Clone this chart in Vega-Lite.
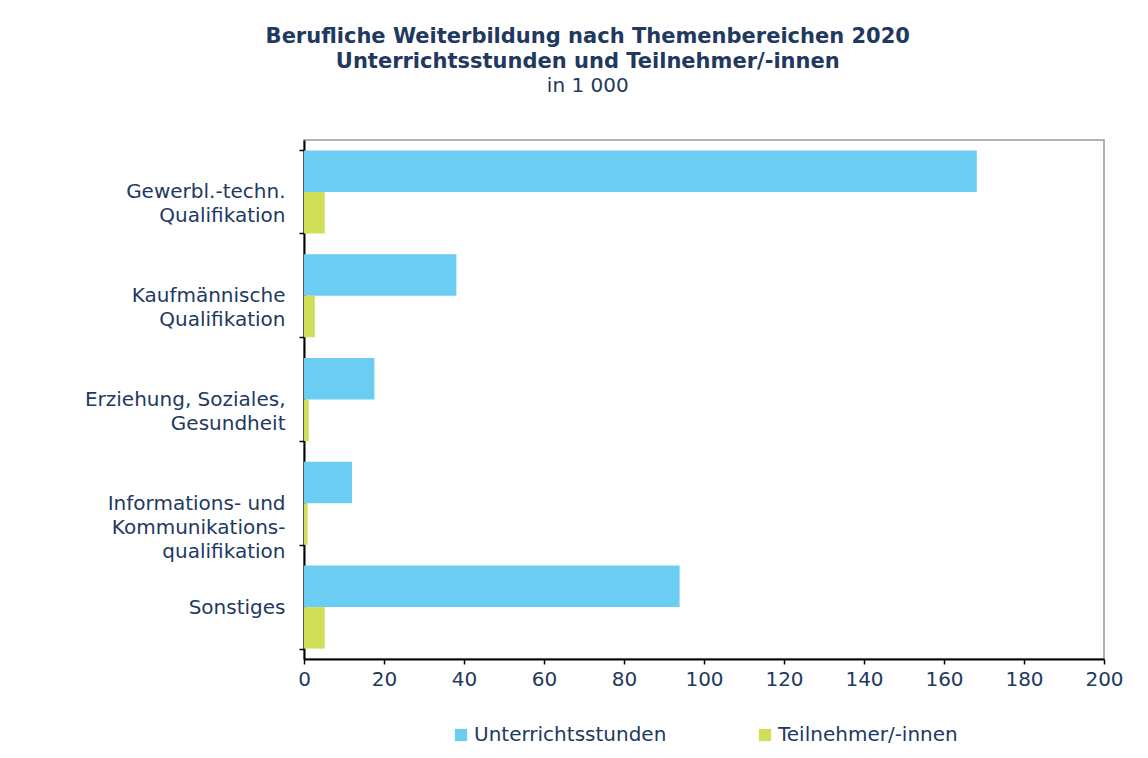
{
  "$schema": "https://vega.github.io/schema/vega-lite/v6.json",
  "width": 1148,
  "height": 758,
  "autosize": {"type": "fit", "contains": "padding"},
  "padding": {"left": 84, "right": 24, "top": 26, "bottom": 13},
  "background": "white",
  "title": {
    "text": ["Berufliche Weiterbildung nach Themenbereichen 2020", "Unterrichtsstunden und Teilnehmer/-innen"],
    "subtitle": "in 1 000",
    "anchor": "middle",
    "frame": "bounds",
    "dx": -16,
    "font": "DejaVu Sans",
    "fontSize": 21,
    "fontWeight": "bold",
    "lineHeight": 25,
    "color": "#22395f",
    "subtitleFont": "DejaVu Sans",
    "subtitleFontSize": 20,
    "subtitleColor": "#22395f",
    "subtitlePadding": 4,
    "offset": 34
  },
  "data": {
    "values": [
      {"Themenbereich": "Gewerbl.-techn.|Qualifikation", "Reihe": "Unterrichtsstunden", "Wert": 168.2},
      {"Themenbereich": "Gewerbl.-techn.|Qualifikation", "Reihe": "Teilnehmer/-innen", "Wert": 5.2},
      {"Themenbereich": "Kaufmännische|Qualifikation", "Reihe": "Unterrichtsstunden", "Wert": 38.1},
      {"Themenbereich": "Kaufmännische|Qualifikation", "Reihe": "Teilnehmer/-innen", "Wert": 2.7},
      {"Themenbereich": "Erziehung, Soziales,|Gesundheit", "Reihe": "Unterrichtsstunden", "Wert": 17.6},
      {"Themenbereich": "Erziehung, Soziales,|Gesundheit", "Reihe": "Teilnehmer/-innen", "Wert": 1.2},
      {"Themenbereich": "Informations- und|Kommunikations-|qualifikation", "Reihe": "Unterrichtsstunden", "Wert": 12.0},
      {"Themenbereich": "Informations- und|Kommunikations-|qualifikation", "Reihe": "Teilnehmer/-innen", "Wert": 0.9},
      {"Themenbereich": "Sonstiges", "Reihe": "Unterrichtsstunden", "Wert": 93.9},
      {"Themenbereich": "Sonstiges", "Reihe": "Teilnehmer/-innen", "Wert": 5.2}
    ]
  },
  "mark": {"type": "bar"},
  "encoding": {
    "y": {
      "field": "Themenbereich",
      "type": "nominal",
      "sort": ["Gewerbl.-techn.|Qualifikation", "Kaufmännische|Qualifikation", "Erziehung, Soziales,|Gesundheit", "Informations- und|Kommunikations-|qualifikation", "Sonstiges"],
      "scale": {"paddingInner": 0.2, "paddingOuter": 0.1},
      "axis": {
        "title": null,
        "labelExpr": "isValid(datum.value) ? split(datum.value, '|') : ''",
        "labelFont": "DejaVu Sans",
        "labelFontSize": 20,
        "labelColor": "#22395f",
        "labelLineHeight": 24,
        "labelPadding": 14,
        "labelLimit": 300,
        "tickBand": "extent",
        "tickSize": 5,
        "tickColor": "#000000",
        "tickWidth": 1.5,
        "domainColor": "#000000",
        "domainWidth": 2,
        "grid": false,
        "encode": {
          "labels": {
            "update": {
              "dy": {"signal": "isValid(datum.value) ? -(length(split(datum.value, '|')) - 1) * 12 : 0"}
            }
          }
        }
      }
    },
    "yOffset": {
      "field": "Reihe",
      "type": "nominal",
      "sort": ["Unterrichtsstunden", "Teilnehmer/-innen"],
      "scale": {"paddingInner": 0, "paddingOuter": 0}
    },
    "x": {
      "field": "Wert",
      "type": "quantitative",
      "scale": {"domain": [0, 200], "nice": false},
      "axis": {
        "title": null,
        "values": [0, 20, 40, 60, 80, 100, 120, 140, 160, 180, 200],
        "labelFlush": false,
        "labelFont": "DejaVu Sans",
        "labelFontSize": 20,
        "labelColor": "#22395f",
        "labelPadding": 5,
        "tickSize": 5,
        "tickColor": "#000000",
        "tickWidth": 1.5,
        "domainColor": "#000000",
        "domainWidth": 2,
        "grid": false
      }
    },
    "color": {
      "field": "Reihe",
      "type": "nominal",
      "scale": {"domain": ["Unterrichtsstunden", "Teilnehmer/-innen"], "range": ["#6acdf1", "#d0de58"]},
      "legend": {
        "title": null,
        "orient": "bottom",
        "direction": "horizontal",
        "symbolType": "square",
        "symbolSize": 150,
        "symbolStrokeWidth": 0,
        "labelFont": "DejaVu Sans",
        "labelFontSize": 20,
        "labelColor": "#22395f",
        "labelOffset": 3,
        "labelLimit": 400,
        "columnPadding": 88,
        "offset": 36
      }
    }
  },
  "config": {
    "view": {"stroke": "#999999", "strokeWidth": 1.5},
    "legend": {"layout": {"bottom": {"anchor": "middle"}}}
  }
}
